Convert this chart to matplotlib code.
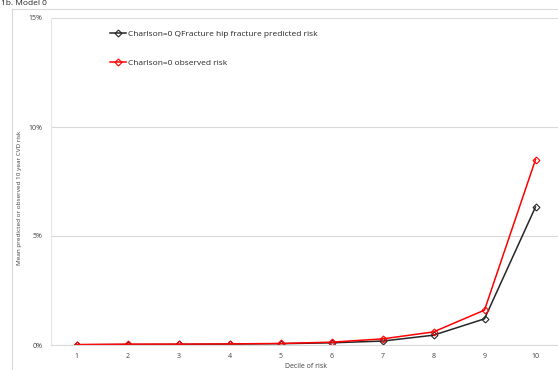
import matplotlib.pyplot as plt
from matplotlib.patches import Rectangle
from matplotlib.ticker import FuncFormatter

deciles = [1, 2, 3, 4, 5, 6, 7, 8, 9, 10]
predicted = [0.01, 0.02, 0.03, 0.04, 0.06, 0.10, 0.18, 0.45, 1.20, 6.33]
observed = [0.02, 0.04, 0.04, 0.05, 0.07, 0.13, 0.28, 0.60, 1.60, 8.50]
y_ticks = [0, 5, 10, 15]

plt.rcParams['font.family'] = ['Open Sans', 'DejaVu Sans']

fig = plt.figure(figsize=(5.58, 3.70), dpi=100)

# chart area border
fig.patches.append(Rectangle((12 / 558, -0.05), 1.0, (370 - 9) / 370 + 0.05,
                             transform=fig.transFigure, fill=False,
                             edgecolor='#d9d9d9', linewidth=0.8))

# heading at the top
fig.text(0.002, 0.999, '1b. Model 0', fontsize=6, va='top', ha='left', color='#222222')

ax = fig.add_axes([51 / 558, 25 / 370, 510 / 558, 327 / 370])
ax.plot(deciles, predicted, color='#262626', lw=1.1, marker='D', ms=3.5,
        mfc='none', mec='#262626', mew=0.8,
        label='Charlson=0 QFracture hip fracture predicted risk')
ax.plot(deciles, observed, color='#ff0000', lw=1.1, marker='D', ms=3.5,
        mfc='none', mec='#ff0000', mew=0.8,
        label='Charlson=0 observed risk')

ax.set_xlim(0.5, 10.5)
ax.set_ylim(0, 15)
ax.set_xticks(deciles)
ax.set_yticks(y_ticks)
ax.yaxis.set_major_formatter(FuncFormatter(lambda v, p: f'{v:.0f}%'))
ax.tick_params(length=0, labelsize=5, colors='#404040', pad=6)
ax.grid(axis='y', color='#d9d9d9', lw=0.8)
ax.set_axisbelow(True)
for s in ['top', 'right']:
    ax.spines[s].set_visible(False)
ax.spines['left'].set_color('#e6e6e6')
ax.spines['bottom'].set_color('#d9d9d9')
ax.spines['left'].set_linewidth(0.8)
ax.spines['bottom'].set_linewidth(0.8)

ax.set_xlabel('Decile of risk', fontsize=5, color='#404040', labelpad=2)
ax.set_ylabel('Mean predicted or observed 10 year CVD risk', fontsize=4.6,
              color='#404040')
ax.yaxis.set_label_coords(-22 / 510 * 1.0 - (51 - 22) / 510 + 22 / 510, 0.45)

ax.legend(loc='upper left', bbox_to_anchor=(0.1, 0.985), frameon=False,
          fontsize=6, labelspacing=2.5, handlelength=2.0, handletextpad=0.2,
          labelcolor='#262626')

fig.savefig('out.png', dpi=100)
